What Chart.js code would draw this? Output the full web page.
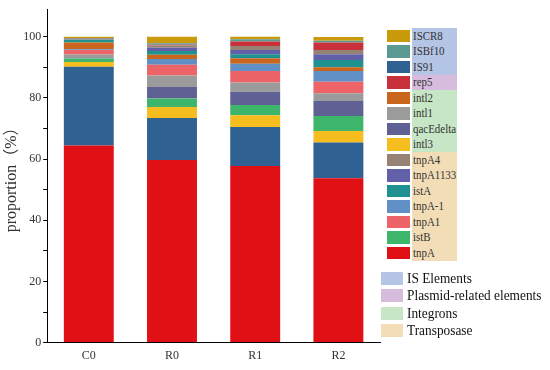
<!DOCTYPE html>
<html>
<head>
<meta charset="utf-8">
<script src="https://cdn.jsdelivr.net/npm/chart.js@4/dist/chart.umd.min.js"></script>
<style>
  body { margin: 0; background: #fff; }
  #wrap { position: relative; width: 550px; height: 370px; overflow: hidden; }
  #chart { position: absolute; left: 0; top: 0; }
  .band { position: absolute; }
  .row { position: absolute; font-family: "Liberation Serif", serif; font-size: 13px; color: #333; white-space: nowrap; transform-origin: left center; }
  .box { position: absolute; }
</style>
</head>
<body>
<div id="wrap">
  <canvas id="chart" width="550" height="370"></canvas>
</div>
<script>
/* Amostras (eixo x) */
const samples = ["C0", "R0", "R1", "R2"];

/* Proporção (%) de cada gene em cada amostra */
const tnpA      = [64.4, 59.7, 57.7, 53.7];
const IS91      = [25.8, 13.7, 12.8, 11.7];
const intl3     = [1.5, 3.6, 3.8, 3.8];
const istB      = [1.2, 2.8, 3.4, 4.9];
const qacEdelta = [0.1, 3.8, 4.3, 4.9];
const intl1     = [1.2, 3.7, 3.0, 2.5];
const tnpA1     = [1.5, 3.5, 3.8, 3.8];
const tnpA_1    = [0.2, 1.9, 2.4, 3.5];
const intl2     = [2.2, 1.4, 1.8, 1.2];
const istA      = [0.9, 1.2, 1.3, 2.4];
const tnpA1133  = [0.1, 1.1, 1.4, 1.9];
const tnpA4     = [0.1, 0.7, 1.3, 1.4];
const rep5      = [0.1, 0.3, 1.4, 2.4];
const ISBf10    = [0.3, 0.5, 0.8, 0.55];
const ISCR8     = [0.4, 2.1, 0.8, 1.3];

/* Ticks do eixo y */
const yTicks = [0, 20, 40, 60, 80, 100];

/* Ordem de empilhamento (de baixo para cima) */
const stackOrder = [
    ["tnpA", tnpA, "#e01014"],
    ["IS91", IS91, "#2f6192"],
    ["intl3", intl3, "#f6bd1f"],
    ["istB", istB, "#3db56b"],
    ["qacEdelta", qacEdelta, "#5f6194"],
    ["intl1", intl1, "#9b9b9b"],
    ["tnpA1", tnpA1, "#ec6468"],
    ["tnpA-1", tnpA_1, "#6090c6"],
    ["intl2", intl2, "#c9651c"],
    ["istA", istA, "#1f9190"],
    ["tnpA1133", tnpA1133, "#6260a9"],
    ["tnpA4", tnpA4, "#978276"],
    ["rep5", rep5, "#c9313a"],
    ["ISBf10", ISBf10, "#5b9a92"],
    ["ISCR8", ISCR8, "#c99a0b"],
];

/* Ordem da legenda (de cima para baixo) e grupos */
const legendOrder = ["ISCR8", "ISBf10", "IS91", "rep5", "intl2", "intl1", "qacEdelta", "intl3",
    "tnpA4", "tnpA1133", "istA", "tnpA-1", "tnpA1", "istB", "tnpA"];
const groups = [
    ["IS Elements", 3, "#b5c5e5"],
    ["Plasmid-related elements", 1, "#d8bcdd"],
    ["Integrons", 4, "#c6e6c6"],
    ["Transposase", 7, "#f3ddb6"],
];

const serif = "'Liberation Serif', 'Noto Sans CJK SC', serif";

/* Cria o gráfico de barras empilhadas */
const ctx = document.getElementById("chart").getContext("2d");
new Chart(ctx, {
    type: "bar",
    data: {
        labels: samples,
        datasets: stackOrder.map(([name, values, color]) => ({
            label: name,
            data: values,
            backgroundColor: color,
            borderWidth: 0,
            barPercentage: 0.6,
            categoryPercentage: 1.0,
        })),
    },
    options: {
        responsive: false,
        animation: false,
        layout: { padding: { top: -3, right: 170, left: 2, bottom: 1 } },
        plugins: { legend: { display: false }, tooltip: { enabled: false } },
        scales: {
            x: {
                stacked: true,
                grid: { display: false, drawTicks: false },
                border: { color: "#000", width: 1 },
                ticks: { color: "#333", font: { family: serif, size: 12 }, padding: 6 },
            },
            y: {
                stacked: true,
                min: 0,
                max: 109,
                grid: {
                    drawOnChartArea: false,
                    tickLength: 4,
                    tickColor: (c) => (c.tick && c.tick.value > 100 ? "rgba(0,0,0,0)" : "#000"),
                },
                border: { color: "#000", width: 1 },
                ticks: {
                    stepSize: 10,
                    color: "#333",
                    padding: 2,
                    font: { family: serif, size: 12 },
                    callback: (v) => (yTicks.includes(v) ? v : ""),
                },
                title: {
                    display: true,
                    text: "proportion（%）",
                    color: "#333",
                    font: { family: serif, size: 16 },
                    padding: 0,
                },
            },
        },
    },
});

/* Monta a legenda em HTML */
const wrap = document.getElementById("wrap");
const colorOf = {};
stackOrder.forEach(([name, , color]) => (colorOf[name] = color));
const rowTop = 28, rowH = 15.5;

let start = 0;
groups.forEach(([name, count, color]) => {
    const band = document.createElement("div");
    band.className = "band";
    band.style.cssText = `left:412px;top:${rowTop + start * rowH}px;width:45px;height:${count * rowH}px;background:${color}`;
    wrap.appendChild(band);
    start += count;
});

legendOrder.forEach((name, i) => {
    const box = document.createElement("div");
    box.className = "box";
    box.style.cssText = `left:387px;top:${rowTop + i * rowH + 1.5}px;width:23px;height:12.5px;background:${colorOf[name]}`;
    wrap.appendChild(box);
    const label = document.createElement("div");
    label.className = "row";
    label.style.cssText = `left:413px;top:${rowTop + i * rowH - 0.5}px;line-height:${rowH}px;transform:scaleX(0.84)`;
    label.textContent = name;
    wrap.appendChild(label);
});

groups.forEach(([name, , color], i) => {
    const top = 272 + i * 17.3;
    const box = document.createElement("div");
    box.className = "box";
    box.style.cssText = `left:381px;top:${top}px;width:22px;height:13px;background:${color}`;
    wrap.appendChild(box);
    const label = document.createElement("div");
    label.className = "row";
    label.style.cssText = `left:407px;top:${top - 2}px;line-height:17px;font-size:14.5px;color:#111;transform:scaleX(0.92)`;
    label.textContent = name;
    wrap.appendChild(label);
});
</script>
</body>
</html>
